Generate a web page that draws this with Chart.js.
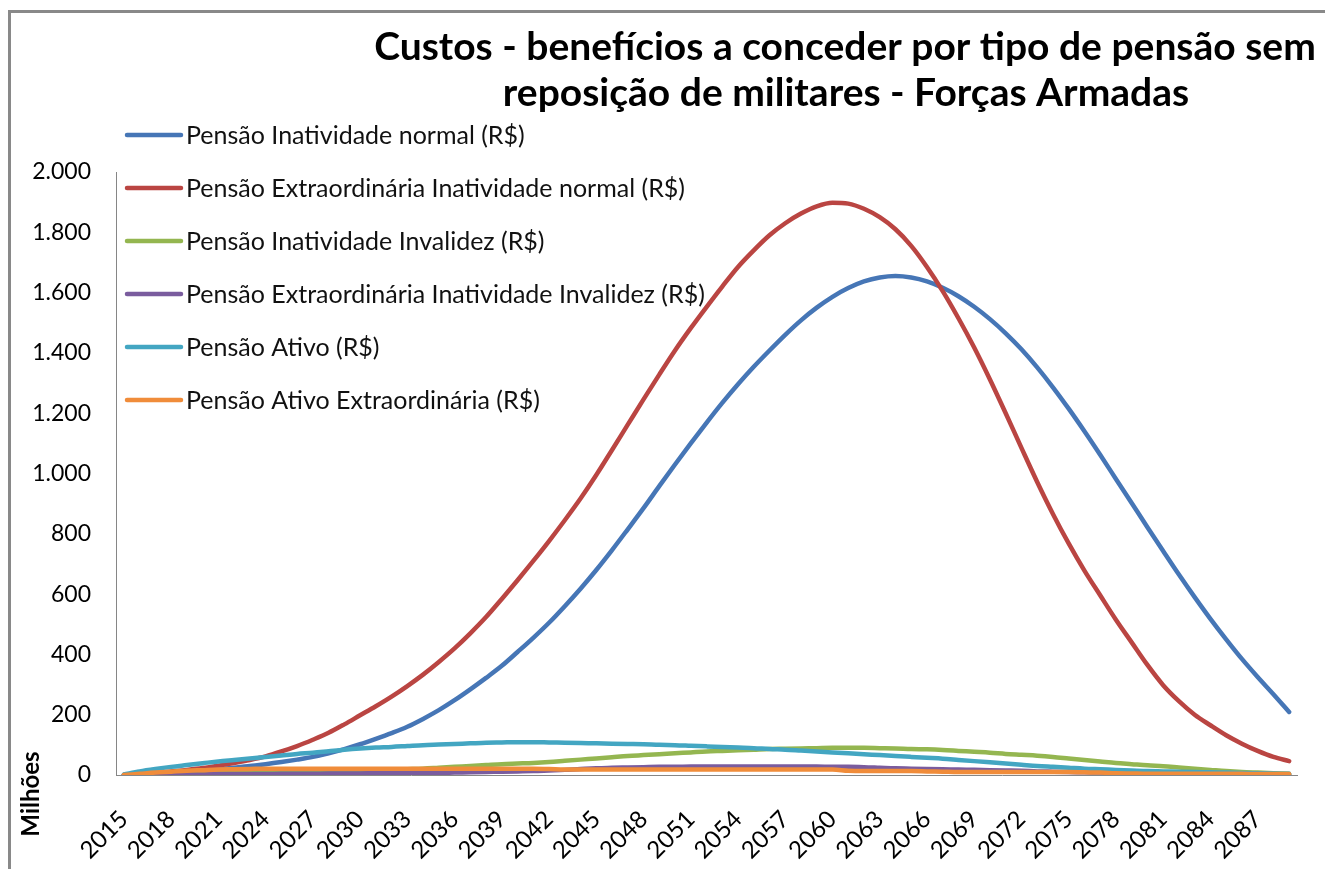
<!DOCTYPE html>
<html>
<head>
<meta charset="utf-8">
<script src="https://cdn.jsdelivr.net/npm/chart.js"></script>
<style>
  html, body { margin: 0; padding: 0; background: #fff; }
  canvas { display: block; }
</style>
</head>
<body>
<canvas id="grafico" width="1325" height="869"></canvas>
<script>
// anos da projecao
var anos = [2015, 2016, 2017, 2018, 2019, 2020, 2021, 2022, 2023, 2024,
  2025, 2026, 2027, 2028, 2029, 2030, 2031, 2032, 2033, 2034,
  2035, 2036, 2037, 2038, 2039, 2040, 2041, 2042, 2043, 2044,
  2045, 2046, 2047, 2048, 2049, 2050, 2051, 2052, 2053, 2054,
  2055, 2056, 2057, 2058, 2059, 2060, 2061, 2062, 2063, 2064,
  2065, 2066, 2067, 2068, 2069, 2070, 2071, 2072, 2073, 2074,
  2075, 2076, 2077, 2078, 2079, 2080, 2081, 2082, 2083, 2084,
  2085, 2086, 2087, 2088, 2089];

// valores em milhoes de R$
var inatividadeNormal = [0, 3, 6, 9, 12, 15, 19, 24, 30, 36,
  43, 51, 60, 72, 86, 102, 120, 139, 160, 186,
  215, 248, 284, 322, 362, 408, 455, 505, 560, 618,
  680, 746, 815, 885, 958, 1030, 1100, 1168, 1234, 1296,
  1354, 1408, 1460, 1508, 1550, 1586, 1615, 1637, 1650, 1655,
  1650, 1637, 1616, 1588, 1553, 1512, 1465, 1412, 1352, 1286,
  1215, 1140, 1062, 982, 902, 822, 743, 665, 590, 518,
  450, 385, 325, 268, 209];

var extraInatividadeNormal = [0, 3, 7, 12, 17, 23, 31, 40, 50, 62,
  78, 96, 117, 140, 168, 198, 228, 260, 295, 333,
  375, 420, 470, 524, 584, 646, 710, 776, 845, 917,
  995, 1078, 1162, 1246, 1328, 1408, 1482, 1552, 1620, 1685,
  1740, 1790, 1830, 1862, 1886, 1898, 1895, 1878, 1850, 1810,
  1755, 1685, 1605, 1515, 1418, 1312, 1200, 1085, 972, 866,
  768, 678, 596, 515, 440, 365, 298, 245, 200, 165,
  132, 104, 80, 60, 46];

var inatividadeInvalidez = [0, 1, 2, 3, 4, 5, 6, 7, 8, 9,
  10, 11, 12, 13, 14, 15, 16, 17, 19, 21,
  24, 27, 30, 33, 36, 38, 40, 43, 47, 51,
  55, 59, 63, 66, 69, 72, 75, 78, 80, 82,
  84, 86, 87, 88, 89, 90, 90, 90, 89, 88,
  86, 85, 83, 80, 77, 74, 70, 67, 64, 60,
  55, 50, 45, 40, 36, 32, 29, 25, 21, 17,
  13, 10, 8, 6, 4];

var extraInatividadeInvalidez = [0, 1, 1, 2, 2, 2, 3, 3, 3, 3,
  4, 4, 4, 5, 5, 5, 6, 6, 6, 7,
  7, 8, 9, 10, 11, 12, 13, 15, 17, 20,
  22, 24, 25, 26, 27, 27, 28, 28, 28, 28,
  28, 28, 28, 28, 28, 27, 27, 26, 24, 22,
  21, 20, 19, 18, 17, 16, 15, 14, 12, 11,
  10, 9, 8, 7, 6, 5, 5, 4, 4, 3,
  3, 2, 2, 2, 1];

var ativo = [2, 12, 20, 27, 33, 39, 45, 50, 55, 60,
  65, 70, 74, 79, 84, 88, 91, 93, 96, 99,
  101, 103, 105, 107, 108, 109, 109, 108, 107, 106,
  105, 104, 103, 102, 100, 99, 97, 95, 93, 91,
  89, 86, 84, 81, 78, 75, 72, 69, 66, 63,
  60, 57, 54, 50, 46, 42, 38, 34, 30, 27,
  24, 21, 19, 17, 15, 13, 12, 11, 10, 9,
  8, 7, 6, 5, 4];

var ativoExtra = [0, 4, 8, 11, 14, 16, 18, 19, 20, 21,
  21, 21, 21, 21, 21, 21, 21, 21, 21, 21,
  21, 21, 21, 21, 21, 21, 21, 20, 18, 18,
  18, 18, 18, 18, 18, 18, 18, 18, 18, 18,
  18, 18, 18, 18, 18, 18, 14, 13, 13, 13,
  13, 12, 11, 10, 10, 10, 10, 10, 10, 10,
  10, 9, 8, 6, 5, 4, 4, 4, 4, 4,
  4, 4, 3, 3, 3];

var nomes = ['Pensão Inatividade normal (R$)',
  'Pensão Extraordinária Inatividade normal (R$)',
  'Pensão Inatividade Invalidez (R$)',
  'Pensão Extraordinária Inatividade Invalidez (R$)',
  'Pensão Ativo (R$)',
  'Pensão Ativo Extraordinária (R$)'];

var cores = ['#4676B6', '#BA4542', '#94B650', '#7A5C9E', '#43A6C2', '#F08C3A'];

var titulo = ['Custos - benefícios a conceder por tipo de pensão sem',
  'reposição de militares - Forças Armadas'];
var rotuloEixoY = 'Milhões';

var series = [inatividadeNormal, extraInatividadeNormal, inatividadeInvalidez,
  extraInatividadeInvalidez, ativo, ativoExtra];

function milhar(v) {
  return String(v).replace(/\B(?=(\d{3})+(?!\d))/g, '.');
}

// fundo branco e moldura cinza (so esquerda e topo aparecem no recorte)
var moldura = {
  id: 'moldura',
  beforeDraw: function(chart) {
    var c = chart.ctx;
    c.save();
    c.fillStyle = '#fff';
    c.fillRect(0, 0, chart.width, chart.height);
    c.fillStyle = '#898989';
    c.fillRect(8, 10, 3, chart.height);
    c.fillRect(8, 10, chart.width, 3);
    c.restore();
  }
};

// titulo, legenda sobre a area do grafico e rotulo do eixo
var textos = {
  id: 'textos',
  afterDraw: function(chart) {
    var c = chart.ctx;
    var area = chart.chartArea;
    c.save();
    c.fillStyle = '#000';
    c.font = 'bold 39px Lato';
    c.textAlign = 'center';
    c.textBaseline = 'alphabetic';
    c.fillText(titulo[0], 845, 60);
    c.fillText(titulo[1], 846, 106);

    c.font = '25px Lato';
    c.textAlign = 'left';
    c.textBaseline = 'middle';
    for (var i = 0; i < nomes.length; i++) {
      var y = area.top - 37 + i * 53;
      c.strokeStyle = cores[i];
      c.lineWidth = 4.5;
      c.lineCap = 'round';
      c.beginPath();
      c.moveTo(area.left + 11, y);
      c.lineTo(area.left + 65, y);
      c.stroke();
      c.fillStyle = '#111';
      c.fillText(nomes[i], area.left + 70, y + 1);
    }

    c.translate(31, 794);
    c.rotate(-Math.PI / 2);
    c.textAlign = 'center';
    c.font = 'bold 24px Lato';
    c.fillStyle = '#000';
    c.fillText(rotuloEixoY, 0, 0);
    c.restore();
  }
};

function desenhar() {
  var datasets = series.map(function(s, i) {
    return {
      label: nomes[i],
      data: s,
      borderColor: cores[i],
      backgroundColor: cores[i],
      borderWidth: 4.5,
      borderCapStyle: 'round',
      borderJoinStyle: 'round',
      pointRadius: 0,
      cubicInterpolationMode: 'monotone',
      fill: false,
      order: series.length - i
    };
  });

  new Chart(document.getElementById('grafico'), {
    type: 'line',
    data: { labels: anos, datasets: datasets },
    plugins: [moldura, textos],
    options: {
      responsive: false,
      animation: false,
      events: [],
      layout: { padding: { top: 172, right: 28, left: 0, bottom: 0 } },
      plugins: {
        legend: { display: false },
        title: { display: false },
        tooltip: { enabled: false }
      },
      scales: {
        x: {
          offset: true,
          grid: { display: false, drawTicks: false },
          border: { display: true, color: '#868686', width: 1 },
          ticks: {
            autoSkip: false,
            minRotation: 45,
            maxRotation: 45,
            padding: 30,
            color: '#000',
            font: { family: 'Lato', size: 24 },
            callback: function(v, idx) {
              return idx % 3 === 0 ? String(anos[idx]) : '';
            }
          },
          afterFit: function(scale) {
            scale.height = 94;
            scale.paddingLeft = 0;
            scale.paddingRight = 0;
          }
        },
        y: {
          min: 0,
          max: 2000,
          grid: { display: false, drawTicks: false },
          border: { display: true, color: '#868686', width: 1 },
          ticks: {
            stepSize: 200,
            padding: 25,
            color: '#000',
            font: { family: 'Lato', size: 23 },
            callback: function(v) { return milhar(v); }
          },
          afterFit: function(scale) { scale.width = 116; }
        }
      }
    }
  });
}

if (document.fonts && document.fonts.load) {
  Promise.all([
    document.fonts.load('25px Lato'),
    document.fonts.load('bold 39px Lato')
  ]).then(desenhar, desenhar);
} else {
  desenhar();
}
</script>
</body>
</html>
